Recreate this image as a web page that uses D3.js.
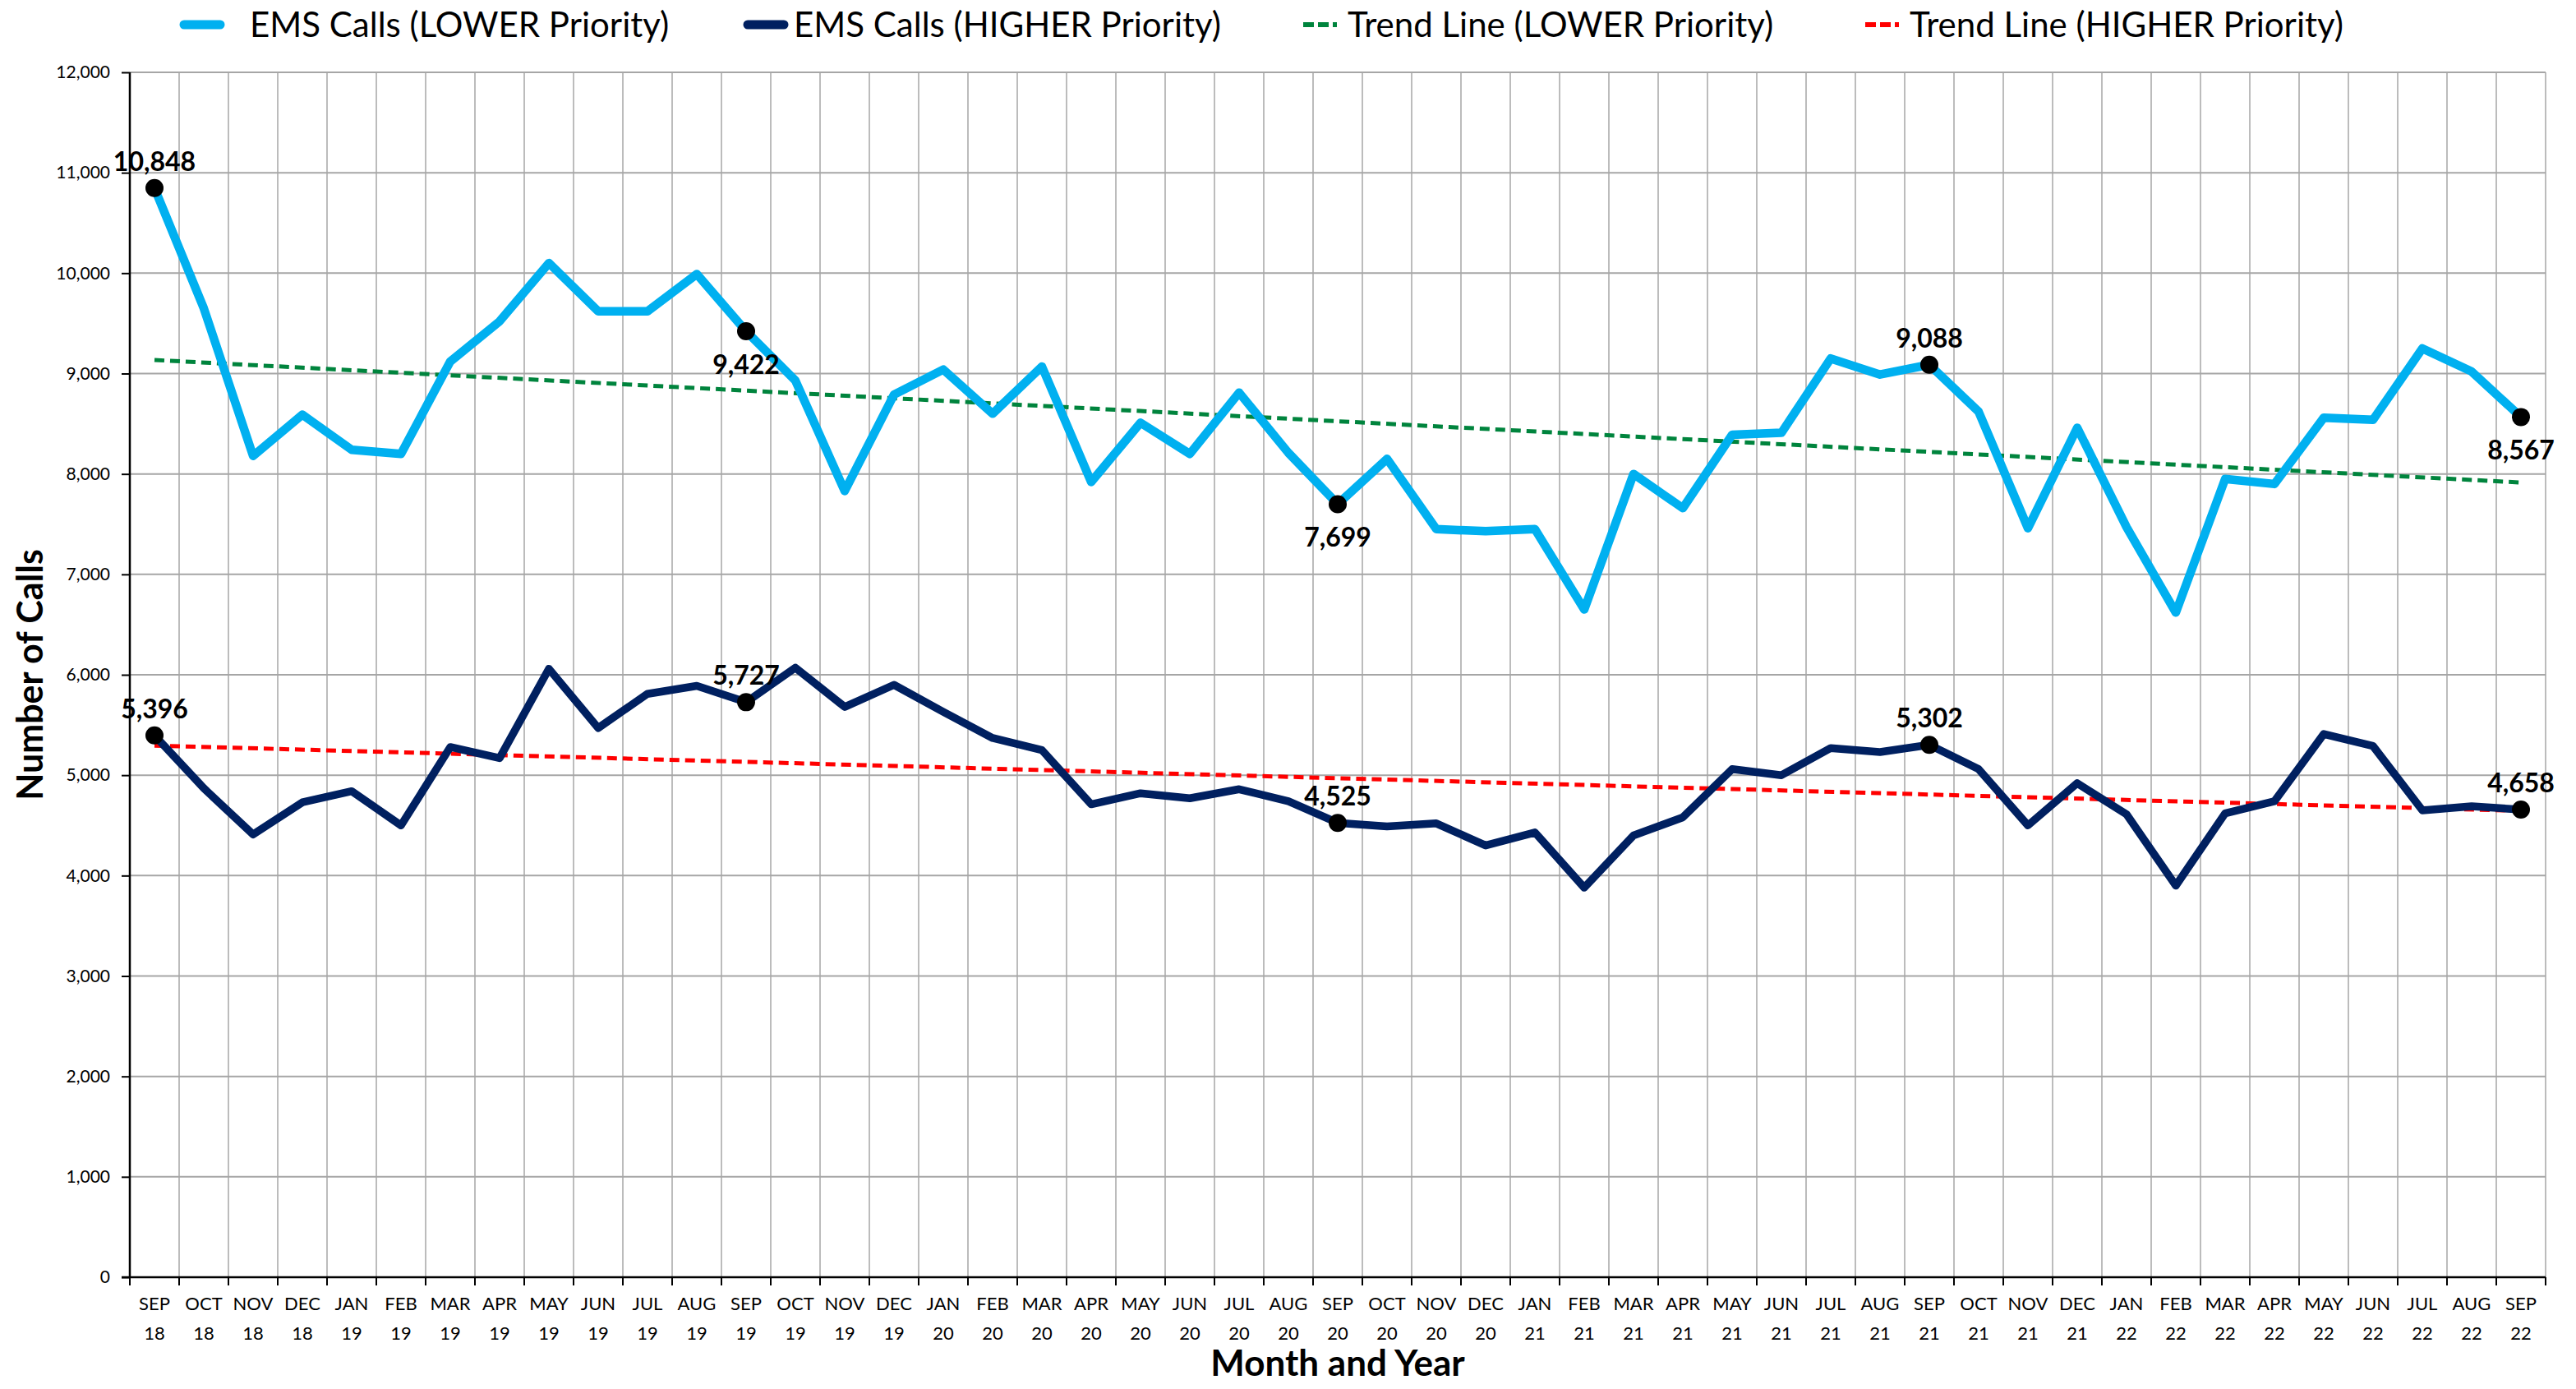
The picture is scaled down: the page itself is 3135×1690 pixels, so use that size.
<!DOCTYPE html>
<html lang="en">
<head>
<meta charset="UTF-8">
<title>EMS Calls by Priority</title>
<script src="https://d3js.org/d3.v7.min.js"></script>
<style>
    body { margin: 0; background: #fff; }
    text { font-family: Lato, "Open Sans", sans-serif; fill: #000; }
    .grid-h { stroke: #a6a6a6; stroke-width: 2px; }
    .grid-v { stroke: #a6a6a6; stroke-width: 1.5px; }
    .axis-line { stroke: #000; stroke-width: 2.5px; }
    .tick-mark { stroke: #000; stroke-width: 2px; }
    .series { fill: none; stroke-linejoin: round; stroke-linecap: round; }
    .trend { fill: none; stroke-width: 5px; stroke-dasharray: 12 7; }
    .pt-label { font-weight: bold; font-size: 32px; }
</style>
</head>
<body>
<div id="chart"></div>
<script>
const months = [
    "SEP 18", "OCT 18", "NOV 18", "DEC 18", "JAN 19", "FEB 19", "MAR 19", "APR 19", "MAY 19", "JUN 19",
    "JUL 19", "AUG 19", "SEP 19", "OCT 19", "NOV 19", "DEC 19", "JAN 20", "FEB 20", "MAR 20", "APR 20",
    "MAY 20", "JUN 20", "JUL 20", "AUG 20", "SEP 20", "OCT 20", "NOV 20", "DEC 20", "JAN 21", "FEB 21",
    "MAR 21", "APR 21", "MAY 21", "JUN 21", "JUL 21", "AUG 21", "SEP 21", "OCT 21", "NOV 21", "DEC 21",
    "JAN 22", "FEB 22", "MAR 22", "APR 22", "MAY 22", "JUN 22", "JUL 22", "AUG 22", "SEP 22"
];
const lowerCalls = [
    10848, 9650, 8180, 8590, 8240, 8200, 9120, 9520, 10100, 9620,
    9620, 9990, 9422, 8930, 7830, 8790, 9040, 8600, 9070, 7920,
    8510, 8200, 8810, 8210, 7699, 8150, 7450, 7430, 7450, 6650,
    8000, 7660, 8390, 8410, 9150, 8990, 9088, 8620, 7460, 8460,
    7470, 6620, 7950, 7900, 8560, 8540, 9250, 9020, 8567
];
const higherCalls = [
    5396, 4870, 4410, 4730, 4840, 4500, 5280, 5170, 6060, 5470,
    5810, 5890, 5727, 6070, 5680, 5900, 5630, 5370, 5250, 4710,
    4820, 4770, 4860, 4740, 4525, 4490, 4520, 4300, 4430, 3880,
    4400, 4580, 5060, 5000, 5270, 5230, 5302, 5060, 4500, 4920,
    4610, 3900, 4620, 4740, 5410, 5290, 4650, 4690, 4658
];
// trend lines: values at first and last month
const lowerTrend = [9135, 7915];
const higherTrend = [5295, 4645];
const labelledMonths = ["SEP 18", "SEP 19", "SEP 20", "SEP 21", "SEP 22"];
const lowerLabelPos = ["above", "below", "below", "above", "below"];
const higherLabelPos = ["above", "above", "above", "above", "above"];
const yTicks = [0, 1000, 2000, 3000, 4000, 5000, 6000, 7000, 8000, 9000, 10000, 11000, 12000];
const legendItems = [
    { name: "EMS Calls (LOWER Priority)", color: "#00b0f0", dash: false, x: 224, tx: 304 },
    { name: "EMS Calls (HIGHER Priority)", color: "#002060", dash: false, x: 910, tx: 966 },
    { name: "Trend Line (LOWER Priority)", color: "#00843d", dash: true, x: 1586, tx: 1640 },
    { name: "Trend Line (HIGHER Priority)", color: "#ff0000", dash: true, x: 2270, tx: 2324 }
];

const width = 3135, height = 1690;
const plotLeft = 158, plotRight = 3098, plotTop = 88, plotBottom = 1554;

const svg = d3.select("#chart").append("svg")
    .attr("width", width).attr("height", height);

const x = d3.scaleBand().domain(months).range([plotLeft, plotRight]).padding(0);
const y = d3.scaleLinear().domain([0, 12000]).range([plotBottom, plotTop]);
const cx = m => x(m) + x.bandwidth() / 2;

// gridlines
svg.append("g").selectAll("line").data(yTicks).join("line")
    .attr("class", "grid-h")
    .attr("x1", plotLeft).attr("x2", plotRight)
    .attr("y1", d => y(d)).attr("y2", d => y(d));

const bounds = months.map(m => x(m)).concat([plotRight]);
svg.append("g").selectAll("line").data(bounds.slice(1)).join("line")
    .attr("class", "grid-v")
    .attr("x1", d => d).attr("x2", d => d)
    .attr("y1", plotTop).attr("y2", plotBottom);

// y axis
const yAxis = d3.axisLeft(y).tickValues(yTicks).tickSize(10).tickFormat(d3.format(","));
const gy = svg.append("g").attr("transform", `translate(${plotLeft},0)`).call(yAxis);
gy.select(".domain").remove();
gy.selectAll(".tick line").attr("stroke", "#000").attr("stroke-width", 2);
gy.selectAll(".tick text").attr("font-size", 21).attr("font-family", "Lato").attr("fill", "#000").attr("x", -24);
svg.append("line").attr("class", "axis-line")
    .attr("x1", plotLeft).attr("x2", plotLeft).attr("y1", plotTop).attr("y2", plotBottom);

// x axis
svg.append("g").selectAll("line").data(bounds).join("line")
    .attr("class", "tick-mark")
    .attr("x1", d => d).attr("x2", d => d)
    .attr("y1", plotBottom).attr("y2", plotBottom + 10);
svg.append("line").attr("class", "axis-line").attr("stroke-width", 3)
    .attr("x1", plotLeft - 10).attr("x2", plotRight).attr("y1", plotBottom).attr("y2", plotBottom);

const xl = svg.append("g").selectAll("text").data(months).join("text")
    .attr("text-anchor", "middle").attr("font-size", 22)
    .attr("x", d => cx(d)).attr("y", plotBottom + 40);
xl.append("tspan").attr("x", d => cx(d)).text(d => d.split(" ")[0]);
xl.append("tspan").attr("x", d => cx(d)).attr("dy", 36).text(d => d.split(" ")[1]);

// axis titles
svg.append("text").attr("text-anchor", "middle").attr("font-weight", "bold").attr("font-size", 44)
    .attr("x", (plotLeft + plotRight) / 2).attr("y", 1674).text("Month and Year");
svg.append("text").attr("text-anchor", "middle").attr("font-weight", "bold").attr("font-size", 43)
    .attr("transform", `translate(52,${(plotTop + plotBottom) / 2}) rotate(-90)`).text("Number of Calls");

// trend lines
const ends = [months[0], months[months.length - 1]];
const trendLine = d3.line().x((d, i) => cx(ends[i])).y(d => y(d));
svg.append("path").datum(lowerTrend).attr("class", "trend").attr("stroke", "#00843d").attr("d", trendLine);
svg.append("path").datum(higherTrend).attr("class", "trend").attr("stroke", "#ff0000").attr("d", trendLine);

// series lines
const line = d3.line().x((d, i) => cx(months[i])).y(d => y(d));
svg.append("path").datum(lowerCalls).attr("class", "series")
    .attr("stroke", "#00b0f0").attr("stroke-width", 10.5).attr("d", line);
svg.append("path").datum(higherCalls).attr("class", "series")
    .attr("stroke", "#002060").attr("stroke-width", 9.5).attr("d", line);

// markers and labels
function markPoints(values, positions) {
    labelledMonths.forEach((m, k) => {
        const i = months.indexOf(m);
        const px = cx(m), py = y(values[i]);
        svg.append("circle").attr("cx", px).attr("cy", py).attr("r", 11).attr("fill", "#000");
        svg.append("text").attr("class", "pt-label").attr("text-anchor", "middle")
            .attr("x", px).attr("y", positions[k] === "above" ? py - 21 : py + 52)
            .text(d3.format(",")(values[i]));
    });
}
markPoints(lowerCalls, lowerLabelPos);
markPoints(higherCalls, higherLabelPos);

// legend
const lg = svg.append("g").selectAll("g").data(legendItems).join("g");
lg.append("line").attr("x1", d => d.x).attr("x2", d => d.x + (d.dash ? 50 : 44)).attr("y1", 30).attr("y2", 30)
    .attr("stroke", d => d.color)
    .attr("stroke-width", d => d.dash ? 6 : 11)
    .attr("stroke-linecap", d => d.dash ? "butt" : "round")
    .attr("stroke-dasharray", d => d.dash ? "13 5 13 5 5" : null);
lg.append("text").attr("x", d => d.tx).attr("y", 45).attr("font-size", 42)
    .text(d => d.name);
</script>
</body>
</html>
